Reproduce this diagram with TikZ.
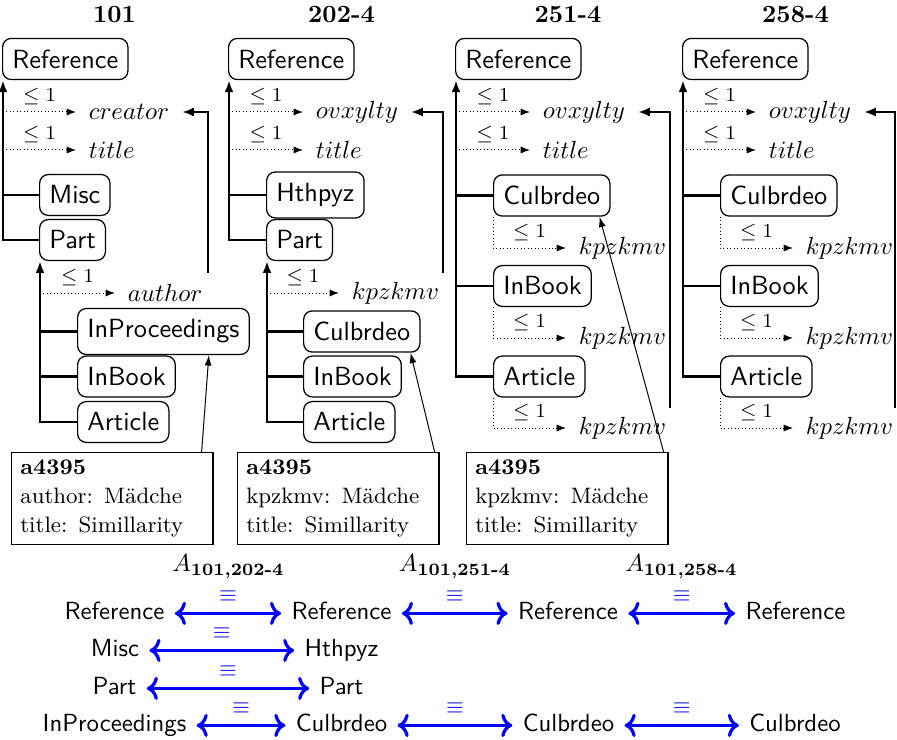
\documentclass[tikz,border=0pt]{standalone}
\usepackage{amsmath}
\usepackage{fontspec}
\usetikzlibrary{arrows.meta,calc}
\newcommand\treefont{\fontsize{10.6}{12}\selectfont\sffamily}
\newcommand\infofont{\fontsize{9}{11.6}\selectfont}
\begin{document}
\begin{tikzpicture}[x=0.4032pt,y=-0.4032pt,
  cls/.style={draw, line width=0.5pt, rounded corners=3.5pt, font=\treefont, inner xsep=3.9pt, inner ysep=4.5pt, anchor=west},
  attr/.style={inner xsep=5pt, inner ysep=1pt, anchor=west},
  ttl/.style={font=\bfseries},
  tree/.style={line width=1pt},
  treearr/.style={line width=1pt, -{Latex[length=4.8pt,width=3.6pt]}},
  dotarr/.style={densely dotted, line width=0.4pt, -{Latex[length=3.8pt,width=2.9pt]}},
  card/.style={above, font=\footnotesize, inner sep=2.5pt},
  info/.style={draw, line width=0.5pt, font=\infofont, align=left, text width=74.2pt, inner xsep=3.5pt, inner ysep=3pt, anchor=north west},
  ptr/.style={line width=0.4pt, -{Latex[length=4.2pt,width=2.8pt]}},
  bl/.style={font=\sffamily, text height=7.4pt, text depth=2.1pt, inner xsep=4pt, anchor=base},
  eq/.style={blue, line width=1.3pt, <->},
  eql/.style={above=3.8pt, text=blue, font=\small, inner sep=0.5pt},
  mapl/.style={anchor=base, inner sep=0.5pt}
]
\useasboundingbox (0,0) rectangle (897,740);

% titles
\node[ttl] (h1) at (114.5,15) {101};
\node[ttl] (h2) at (341.5,15) {202-4};
\node[ttl] (h3) at (568,15) {251-4};
\node[ttl] (h4) at (795.5,15) {258-4};

% ---------- column 1 ----------
\node[cls] (ref1) at (2,59) {Reference};
\node[cls] (misc1) at (39,195) {Misc};
\node[cls] (part1) at (39,240) {Part};
\node[cls] (inp1) at (77,331.5) {InProceedings};
\node[cls] (inb1) at (77,376.5) {InBook};
\node[cls] (art1) at (77,422) {Article};
\coordinate (t1) at ($(ref1.south west)+(1,0)$);
\coordinate (p1) at ($(part1.south west)+(1,0)$);
\node[attr] (cr1) at (76,112) {$creator$};
\node[attr] (ti1) at (76,150) {$title$};
\node[attr] (au1) at (115,293) {$author$};
\draw[treearr] (part1.west) -| (t1);
\draw[tree] (misc1.west) -- (misc1.west -| t1);
\draw[dotarr] (cr1.west -| t1) -- node[card] (k1a) {$\leq 1$} (cr1.west);
\draw[dotarr] (ti1.west -| t1) -- node[card] (k1b) {$\leq 1$} (ti1.west);
\draw[treearr] (art1.west) -| (p1);
\draw[tree] (inp1.west) -- (inp1.west -| p1);
\draw[tree] (inb1.west) -- (inb1.west -| p1);
\draw[dotarr] (au1.west -| p1) -- node[card] (k1c) {$\leq 1$} (au1.west);
\coordinate (e1) at (208,273);
\draw[treearr] (e1) |- (cr1.east);
\node[info] (box1) at (11,452) {\textbf{a4395}\\author: Mädche\\title: Simillarity};
\draw[ptr] ($(box1.north east)+(-12,0)$) -- ($(inp1.south east)+(-41,0)$);

% ---------- column 2 ----------
\node[cls] (ref2) at (228,59) {Reference};
\node[cls] (hth2) at (266,195) {Hthpyz};
\node[cls] (part2) at (266,240) {Part};
\node[cls] (cul2) at (303,331.5) {Culbrdeo};
\node[cls] (inb2) at (303,376.5) {InBook};
\node[cls] (art2) at (303,422) {Article};
\coordinate (t2) at ($(ref2.south west)+(1,0)$);
\coordinate (p2) at ($(part2.south west)+(1,0)$);
\node[attr] (ov2) at (303,112) {$ovxylty$};
\node[attr] (ti2) at (303,150) {$title$};
\node[attr] (kp2) at (339,293) {$kpzkmv$};
\draw[treearr] (part2.west) -| (t2);
\draw[tree] (hth2.west) -- (hth2.west -| t2);
\draw[dotarr] (ov2.west -| t2) -- node[card] (k2a) {$\leq 1$} (ov2.west);
\draw[dotarr] (ti2.west -| t2) -- node[card] (k2b) {$\leq 1$} (ti2.west);
\draw[treearr] (art2.west) -| (p2);
\draw[tree] (cul2.west) -- (cul2.west -| p2);
\draw[tree] (inb2.west) -- (inb2.west -| p2);
\draw[dotarr] (kp2.west -| p2) -- node[card] (k2c) {$\leq 1$} (kp2.west);
\coordinate (e2) at (443,273);
\draw[treearr] (e2) |- (ov2.east);
\node[info] (box2) at (237,452) {\textbf{a4395}\\kpzkmv: Mädche\\title: Simillarity};
\draw[ptr] ($(box2.north east)+(-5,0)$) -- ($(cul2.south east)+(-10,0)$);

% ---------- column 3 ----------
\node[cls] (ref3) at (455,59) {Reference};
\node[cls] (cul3) at (493,195.5) {Culbrdeo};
\node[cls] (inb3) at (493,286) {InBook};
\node[cls] (art3) at (493,376.5) {Article};
\coordinate (t3) at ($(ref3.south west)+(1,0)$);
\node[attr] (ov3) at (530,112) {$ovxylty$};
\node[attr] (ti3) at (530,150) {$title$};
\node[attr] (kp3a) at (566,248) {$kpzkmv$};
\node[attr] (kp3b) at (566,338) {$kpzkmv$};
\node[attr] (kp3c) at (566,428) {$kpzkmv$};
\draw[treearr] (art3.west) -| (t3);
\draw[tree] (cul3.west) -- (cul3.west -| t3);
\draw[tree] (inb3.west) -- (inb3.west -| t3);
\draw[dotarr] (ov3.west -| t3) -- node[card] (k3a) {$\leq 1$} (ov3.west);
\draw[dotarr] (ti3.west -| t3) -- node[card] (k3b) {$\leq 1$} (ti3.west);
\draw[dotarr] (cul3.south west) |- node[card,pos=.75] (k3c) {$\leq 1$} (kp3a.west);
\draw[dotarr] (inb3.south west) |- node[card,pos=.75] (k3d) {$\leq 1$} (kp3b.west);
\draw[dotarr] (art3.south west) |- node[card,pos=.75] (k3e) {$\leq 1$} (kp3c.west);
\coordinate (e3) at (670,408);
\draw[treearr] (e3) |- (ov3.east);
\node[info] (box3) at (466,452) {\textbf{a4395}\\kpzkmv: Mädche\\title: Simillarity};
\draw[ptr] ($(box3.north east)+(-5,0)$) -- ($(cul3.south east)+(-11,0)$);

% ---------- column 4 ----------
\node[cls] (ref4) at (682,59) {Reference};
\node[cls] (cul4) at (720,195.5) {Culbrdeo};
\node[cls] (inb4) at (720,286) {InBook};
\node[cls] (art4) at (720,376.5) {Article};
\coordinate (t4) at ($(ref4.south west)+(1,0)$);
\node[attr] (ov4) at (756,112) {$ovxylty$};
\node[attr] (ti4) at (756,150) {$title$};
\node[attr] (kp4a) at (793,248) {$kpzkmv$};
\node[attr] (kp4b) at (793,338) {$kpzkmv$};
\node[attr] (kp4c) at (793,428) {$kpzkmv$};
\draw[treearr] (art4.west) -| (t4);
\draw[tree] (cul4.west) -- (cul4.west -| t4);
\draw[tree] (inb4.west) -- (inb4.west -| t4);
\draw[dotarr] (ov4.west -| t4) -- node[card] (k4a) {$\leq 1$} (ov4.west);
\draw[dotarr] (ti4.west -| t4) -- node[card] (k4b) {$\leq 1$} (ti4.west);
\draw[dotarr] (cul4.south west) |- node[card,pos=.75] (k4c) {$\leq 1$} (kp4a.west);
\draw[dotarr] (inb4.south west) |- node[card,pos=.75] (k4d) {$\leq 1$} (kp4b.west);
\draw[dotarr] (art4.south west) |- node[card,pos=.75] (k4e) {$\leq 1$} (kp4c.west);
\coordinate (e4) at (895,408);
\draw[treearr] (e4) |- (ov4.east);

% ---------- alignments ----------
\node[mapl] (a1) at (228.5,572) {$A_{\text{\bfseries 101,202-4}}$};
\node[mapl] (a2) at (455,572) {$A_{\text{\bfseries 101,251-4}}$};
\node[mapl] (a3) at (681.5,572) {$A_{\text{\bfseries 101,258-4}}$};

\node[bl] (b11) at (114.5,620) {Reference};
\node[bl] (b12) at (341.5,620) {Reference};
\node[bl] (b13) at (568,620) {Reference};
\node[bl] (b14) at (795.5,620) {Reference};
\node[bl] (b21) at (115,657) {Misc};
\node[bl] (b22) at (341.5,657) {Hthpyz};
\node[bl] (b31) at (114.5,695) {Part};
\node[bl] (b32) at (341.5,695) {Part};
\node[bl] (b41) at (114.5,732) {InProceedings};
\node[bl] (b42) at (341.5,732) {Culbrdeo};
\node[bl] (b43) at (568.5,732) {Culbrdeo};
\node[bl] (b44) at (795,732) {Culbrdeo};

\draw[eq] (b11) -- node[eql] (q11) {$\equiv$} (b12);
\draw[eq] (b12) -- node[eql] (q12) {$\equiv$} (b13);
\draw[eq] (b13) -- node[eql] (q13) {$\equiv$} (b14);
\draw[eq] (b21) -- node[eql] (q21) {$\equiv$} (b22);
\draw[eq] (b31) -- node[eql] (q31) {$\equiv$} (b32);
\draw[eq] (b41) -- node[eql] (q41) {$\equiv$} (b42);
\draw[eq] (b42) -- node[eql] (q42) {$\equiv$} (b43);
\draw[eq] (b43) -- node[eql] (q43) {$\equiv$} (b44);
\end{tikzpicture}
\end{document}
